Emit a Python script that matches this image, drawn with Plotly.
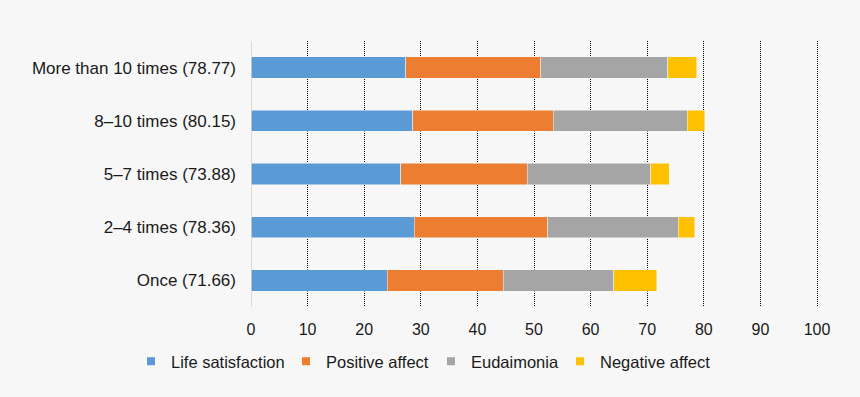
import plotly.graph_objects as go

categories = ["More than 10 times (78.77)", "8\u201310 times (80.15)", "5\u20137 times (73.88)",
              "2\u20134 times (78.36)", "Once (71.66)"]
life_satisfaction = [27.3, 28.6, 26.5, 28.8, 24.1]
positive_affect = [23.9, 24.8, 22.3, 23.6, 20.5]
eudaimonia = [22.4, 23.7, 21.8, 23.1, 19.5]
negative_affect = [5.17, 3.05, 3.28, 2.86, 7.56]
x_ticks = [0, 10, 20, 30, 40, 50, 60, 70, 80, 90, 100]

series = [
    ("Life satisfaction", life_satisfaction, "#5B9BD5"),
    ("Positive affect", positive_affect, "#ED7D31"),
    ("Eudaimonia", eudaimonia, "#A5A5A5"),
    ("Negative affect", negative_affect, "#FFC000"),
]
legend_ids = ["legend", "legend2", "legend3", "legend4"]
legend_x_px = [131, 286, 431, 560]

fig = go.Figure()
for name, vals, col in series:
    fig.add_trace(go.Bar(
        y=categories, x=vals, name=name, orientation="h",
        marker=dict(color=col, line=dict(color="#f7f7f7", width=0.5)),
        width=0.4, showlegend=False, legendgroup=name,
    ))
# legend entries with small square symbols, one legend box per entry
for (name, vals, col), lid in zip(series, legend_ids):
    fig.add_trace(go.Scatter(
        x=[None], y=[None], mode="markers", name=name, legendgroup=name,
        marker=dict(symbol="square", size=8, color=col), showlegend=True,
        legend=lid,
    ))

font_family = "Liberation Sans, Arial, sans-serif"
legend_common = dict(orientation="h", xref="container", xanchor="left",
                     yref="container", y=1 - 344 / 397, yanchor="top",
                     font=dict(size=16.5), itemwidth=30, bgcolor="rgba(0,0,0,0)")
fig.update_layout(
    barmode="stack",
    width=860, height=397,
    paper_bgcolor="#f7f7f7", plot_bgcolor="#f7f7f7",
    margin=dict(l=251, r=40, t=41, b=90, autoexpand=False),
    font=dict(family=font_family, size=16, color="#1a1a1a"),
    showlegend=True,
    legend=dict(x=legend_x_px[0] / 860, **legend_common),
    legend2=dict(x=legend_x_px[1] / 860, **legend_common),
    legend3=dict(x=legend_x_px[2] / 860, **legend_common),
    legend4=dict(x=legend_x_px[3] / 860, **legend_common),
    xaxis=dict(range=[0, 100.53], tickvals=x_ticks, showgrid=True, gridcolor="#000000",
               griddash="1px,1px", gridwidth=1, zeroline=True, zerolinecolor="#d9d9d9",
               zerolinewidth=1, showline=False, ticks="", ticklabelstandoff=11,
               tickfont=dict(size=16)),
    yaxis=dict(autorange="reversed", categoryorder="array", categoryarray=categories,
               showgrid=False, zeroline=False, showline=False, ticks="",
               ticklabelstandoff=14, tickfont=dict(size=17)),
)

fig.write_html(
    "out.html",
    config={"displayModeBar": False},
    post_script="document.body.style.margin='0';document.body.style.background='#f7f7f7';",
)
